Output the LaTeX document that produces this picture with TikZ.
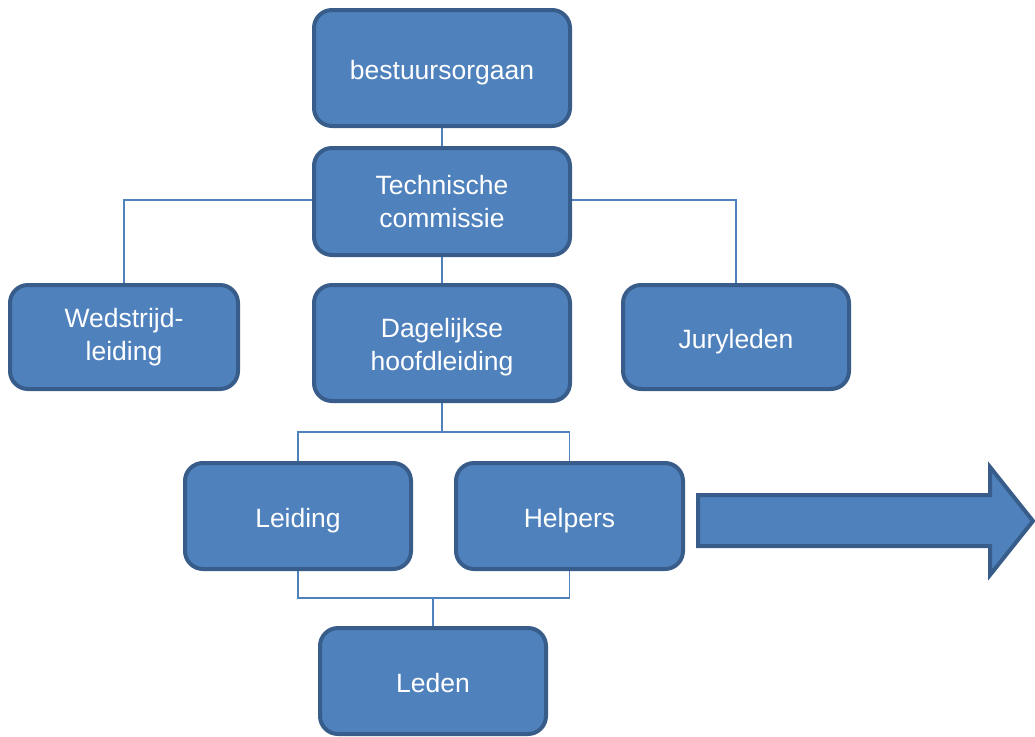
\documentclass[tikz,border=0pt]{standalone}
\usepackage{fontspec}
\setmainfont{Liberation Sans}
\usetikzlibrary{backgrounds}
\definecolor{boxfill}{HTML}{4F81BD}
\definecolor{boxline}{HTML}{385D8A}
\definecolor{connline}{HTML}{4F81BD}
\begin{document}
\begin{tikzpicture}[x=1pt,y=-1pt,
  orgbox/.style={draw=boxline, fill=boxfill, line width=4pt, rounded corners=18pt,
    text=white, align=center, inner sep=0pt,
    font=\fontsize{26.5}{33}\selectfont},
  oneline/.style={text height=23pt, text depth=0pt},
  conn/.style={draw=connline, line width=1.5pt}]
\useasboundingbox (0,0) rectangle (1035,736);
\node[orgbox, oneline, minimum width=256pt, minimum height=116pt] (bestuur) at (442,68) {bestuursorgaan};
\node[orgbox, minimum width=256pt, minimum height=107pt] (tech) at (442,201.5) {Technische\\commissie};
\node[orgbox, minimum width=228pt, minimum height=104pt] (wed) at (124,337) {Wedstrijd-\\leiding};
\node[orgbox, minimum width=256pt, minimum height=116pt] (dag) at (442,343) {\raisebox{-4pt}[\height][\depth]{\begin{tabular}{@{}c@{}}Dagelijkse\\hoofdleiding\end{tabular}}};
\node[orgbox, oneline, minimum width=226pt, minimum height=104pt] (jury) at (736,337) {Juryleden};
\node[orgbox, oneline, minimum width=226pt, minimum height=106pt] (leiding) at (298,516) {Leiding};
\node[orgbox, oneline, minimum width=227pt, minimum height=106pt] (helpers) at (569.5,516) {Helpers};
\node[orgbox, oneline, minimum width=226pt, minimum height=106pt] (leden) at (433,681) {Leden};
\coordinate (j1) at (442,432);
\coordinate (j2) at (433,598);
\coordinate (tl) at (124,200);
\coordinate (tr) at (736,200);
\begin{scope}[on background layer]
\draw[conn] (bestuur.center) -- (tech.center);
\draw[conn] (tech.center) -- (dag.center);
\draw[conn] (wed.north) -- (tl) -- (tr) -- (jury.north);
\draw[conn] (dag.south) -- (j1);
\draw[conn] (leiding.north) |- (j1) -| (helpers.north);
\draw[conn] (leiding.south) |- (j2) -| (helpers.south);
\draw[conn] (j2) -- (leden.north);
\end{scope}
\draw[draw=boxline, fill=boxfill, line width=4pt, line join=miter]
  (698,495) -- (990,495) -- (990,467) -- (1033,521) -- (990,575) -- (990,546) -- (698,546) -- cycle;
\end{tikzpicture}
\end{document}
